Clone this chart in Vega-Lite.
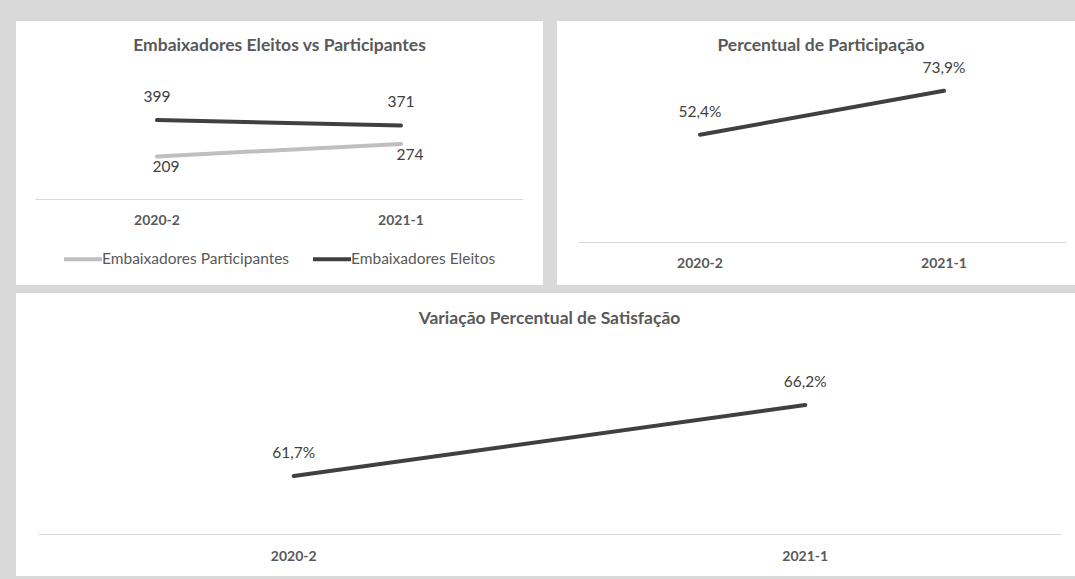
{
  "$schema": "https://vega.github.io/schema/vega-lite/v6.json",
  "background": "#d9d9d9",
  "padding": {"left": 16, "top": 21, "right": 0, "bottom": 3},
  "config": {
    "view": {"stroke": null, "fill": "white"},
    "locale": {"number": {"decimal": ",", "thousands": ".", "grouping": [3], "currency": ["R$", ""]}},
    "title": {"font": "Lato", "fontWeight": "bold", "fontSize": 17.5, "color": "#595959", "anchor": "middle", "baseline": "middle"},
    "text": {"font": "Lato", "fontSize": 15.5, "color": "#404040", "baseline": "middle"}
  },
  "spacing": 8,
  "vconcat": [
    {
      "spacing": 14,
      "hconcat": [
        {
          "width": 527,
          "height": 264,
          "title": {"text": "Embaixadores Eleitos vs Participantes", "offset": -33},
          "data": {"values": [
            {"periodo": "2020-2", "serie": "Embaixadores Eleitos", "valor": 399},
            {"periodo": "2021-1", "serie": "Embaixadores Eleitos", "valor": 371},
            {"periodo": "2020-2", "serie": "Embaixadores Participantes", "valor": 209},
            {"periodo": "2021-1", "serie": "Embaixadores Participantes", "valor": 274}
          ]},
          "encoding": {
            "x": {"field": "periodo", "type": "ordinal", "sort": ["2020-2", "2021-1"],
              "scale": {"type": "band", "range": [19, 507], "paddingInner": 0, "paddingOuter": 0},
              "axis": {"orient": "bottom", "offset": -86, "title": null, "ticks": false, "labelAngle": 0,
                "domainColor": "#d9d9d9", "domainWidth": 1, "labelFont": "Lato", "labelFontWeight": "bold",
                "labelFontSize": 14, "labelColor": "#595959", "labelPadding": 14}},
            "y": {"field": "valor", "type": "quantitative", "scale": {"domain": [0, 600], "range": [175.3, 60.7], "nice": false, "zero": false}, "axis": null}
          },
          "layer": [
            {
              "mark": {"type": "line", "strokeWidth": 4, "strokeCap": "round"},
              "encoding": {
                "color": {"field": "serie", "type": "nominal",
                  "scale": {"domain": ["Embaixadores Participantes", "Embaixadores Eleitos"], "range": ["#bfbfbf", "#404040"]},
                  "legend": {"orient": "none", "legendX": 46, "legendY": 217, "direction": "horizontal", "title": null,
                    "symbolType": "stroke", "symbolSize": 1444, "symbolStrokeWidth": 4, "labelFont": "Lato",
                    "labelFontSize": 15.5, "labelColor": "#595959", "labelOffset": -2, "columnPadding": 15, "labelLimit": 300}}
              }
            },
            {
              "transform": [{"filter": "datum.serie === 'Embaixadores Eleitos'"}],
              "mark": {"type": "text", "dy": -23},
              "encoding": {"text": {"field": "valor", "type": "quantitative"}}
            },
            {
              "transform": [{"filter": "datum.serie === 'Embaixadores Participantes'"}],
              "mark": {"type": "text", "dy": 11, "dx": 9},
              "encoding": {"text": {"field": "valor", "type": "quantitative"}}
            }
          ]
        },
        {
          "width": 518,
          "height": 264,
          "title": {"text": "Percentual de Participação", "offset": -33, "dx": 5},
          "data": {"values": [
            {"periodo": "2020-2", "valor": 0.524},
            {"periodo": "2021-1", "valor": 0.739}
          ]},
          "encoding": {
            "x": {"field": "periodo", "type": "ordinal", "sort": ["2020-2", "2021-1"],
              "scale": {"type": "band", "range": [21, 509], "paddingInner": 0, "paddingOuter": 0},
              "axis": {"orient": "bottom", "offset": -43, "title": null, "ticks": false, "labelAngle": 0,
                "domainColor": "#d9d9d9", "domainWidth": 1, "labelFont": "Lato", "labelFontWeight": "bold",
                "labelFontSize": 14, "labelColor": "#595959", "labelPadding": 14}},
            "y": {"field": "valor", "type": "quantitative", "scale": {"domain": [0, 1], "range": [221, 16.3], "nice": false, "zero": false}, "axis": null}
          },
          "layer": [
            {"mark": {"type": "line", "strokeWidth": 4, "strokeCap": "round", "color": "#404040"}},
            {
              "mark": {"type": "text", "dy": -23},
              "encoding": {"text": {"field": "valor", "type": "quantitative", "format": ".1%"}}
            }
          ]
        }
      ]
    },
    {
      "width": 1059,
      "height": 283,
      "title": {"text": "Variação Percentual de Satisfação", "offset": -34, "dx": 4},
      "data": {"values": [
        {"periodo": "2020-2", "valor": 0.617},
        {"periodo": "2021-1", "valor": 0.662}
      ]},
      "encoding": {
        "x": {"field": "periodo", "type": "ordinal", "sort": ["2020-2", "2021-1"],
          "scale": {"type": "band", "range": [22, 1045], "paddingInner": 0, "paddingOuter": 0},
          "axis": {"orient": "bottom", "offset": -42, "title": null, "ticks": false, "labelAngle": 0,
            "domainColor": "#d9d9d9", "domainWidth": 1, "labelFont": "Lato", "labelFontWeight": "bold",
            "labelFontSize": 14, "labelColor": "#595959", "labelPadding": 15}},
        "y": {"field": "valor", "type": "quantitative", "scale": {"domain": [0.58, 0.68], "range": [241.4, 83.6], "nice": false, "zero": false}, "axis": null}
      },
      "layer": [
        {"mark": {"type": "line", "strokeWidth": 4, "strokeCap": "round", "color": "#404040"}},
        {
          "mark": {"type": "text", "dy": -23},
          "encoding": {"text": {"field": "valor", "type": "quantitative", "format": ".1%"}}
        }
      ]
    }
  ]
}
